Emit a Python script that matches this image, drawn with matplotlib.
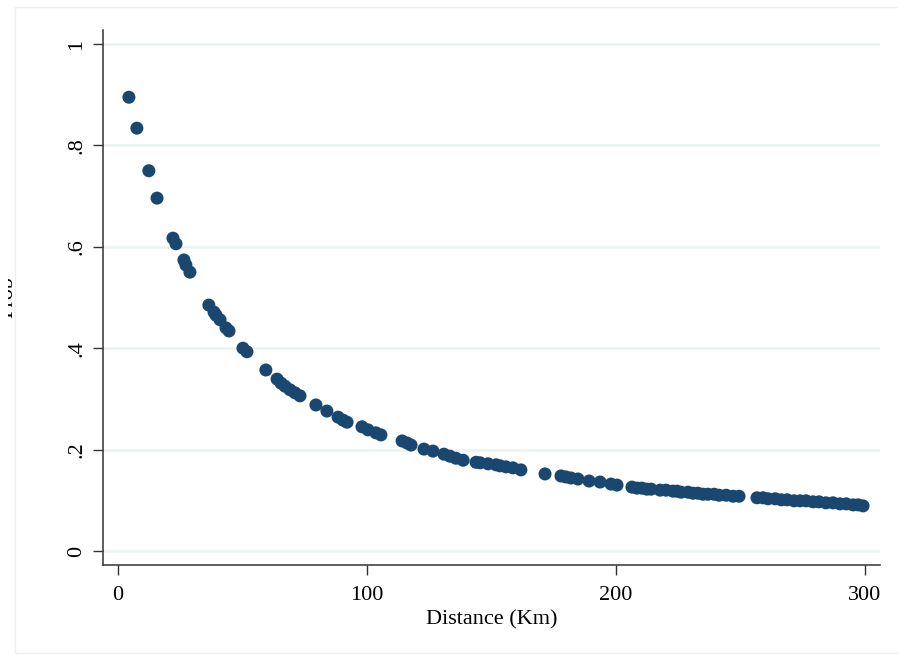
import matplotlib
matplotlib.use("Agg")
import matplotlib.pyplot as plt
from matplotlib.patches import Rectangle

# distance (km) and probability
dist = [4.4, 7.6, 12.4, 15.7, 22.1, 23.3, 26.5, 27.3, 28.9, 36.5, 38.6, 39.4, 41.0,
        43.4, 44.6, 50.2, 51.8, 59.4, 63.9, 65.5, 67.1, 69.1, 71.1, 73.1, 79.5,
        83.9, 88.4, 90.4, 92.0, 98.0, 100.4, 103.6, 105.6, 114.1, 116.1, 117.7,
        122.9, 126.5, 130.9, 133.3, 135.7, 138.6, 143.8, 145.4, 148.6, 151.8,
        153.4, 155.8, 158.6, 161.8, 171.5, 177.9, 179.9, 181.9, 184.7, 189.2,
        193.6, 198.0, 200.4, 206.4, 208.4, 210.4, 212.4, 214.1, 217.7, 220.1,
        222.9, 224.5, 226.1, 228.9, 230.9, 232.9, 234.9, 236.9, 239.4, 241.4,
        244.2, 247.0, 249.4, 256.6, 259.0, 261.0, 263.9, 266.3, 268.7, 271.5,
        273.9, 276.3, 279.1, 281.5, 284.3, 287.1, 289.9, 292.4, 295.2, 297.2,
        299.2]
prob = [0.895, 0.834, 0.750, 0.696, 0.617, 0.606, 0.574, 0.564, 0.550, 0.485,
        0.471, 0.465, 0.456, 0.440, 0.434, 0.400, 0.393, 0.357, 0.339, 0.331,
        0.325, 0.318, 0.312, 0.306, 0.288, 0.276, 0.264, 0.258, 0.254, 0.245,
        0.239, 0.233, 0.229, 0.217, 0.213, 0.209, 0.201, 0.197, 0.191, 0.187,
        0.183, 0.179, 0.175, 0.174, 0.172, 0.170, 0.168, 0.166, 0.164, 0.160,
        0.152, 0.148, 0.146, 0.144, 0.142, 0.138, 0.136, 0.132, 0.130, 0.126,
        0.124, 0.124, 0.122, 0.122, 0.120, 0.120, 0.118, 0.118, 0.116, 0.116,
        0.114, 0.114, 0.112, 0.112, 0.112, 0.110, 0.110, 0.108, 0.108, 0.105,
        0.105, 0.103, 0.103, 0.101, 0.101, 0.099, 0.099, 0.099, 0.097, 0.097,
        0.095, 0.095, 0.093, 0.093, 0.091, 0.091, 0.089]
yticks = [0, 0.2, 0.4, 0.6, 0.8, 1.0]
ylabels = ["0", ".2", ".4", ".6", ".8", "1"]
xticks = [0, 100, 200, 300]

plt.rcParams["font.family"] = ["Liberation Serif", "DejaVu Serif"]
fig = plt.figure(figsize=(8.98, 6.55), dpi=100)
ax = fig.add_axes([103 / 898, 1 - 565 / 655, 777 / 898, 535 / 655])

ax.scatter(dist, prob, s=88, color="#1a476f", edgecolors="none", zorder=3)

ax.set_xlim(-6.0, 306.0)
ax.set_ylim(-0.0276, 1.0276)
ax.set_yticks(yticks)
ax.set_yticklabels(ylabels, rotation=90, va="center")
ax.set_xticks(xticks)
for y in yticks:
    ax.axhline(y, color="#eaf2f3", lw=1.8, zorder=1)
ax.tick_params(axis="both", direction="out", length=7, width=1, color="#333333",
               labelsize=16, pad=5)
ax.tick_params(axis="x", pad=8)
ax.spines["top"].set_visible(False)
ax.spines["right"].set_visible(False)
for s in ("left", "bottom"):
    ax.spines[s].set_color("#333333")
    ax.spines[s].set_linewidth(1.1)
ax.set_xlabel("Distance (Km)", fontsize=16, labelpad=4)

# y label partly cut off at the left edge, as in the reference
fig.text(17 / 898, 1 - 297 / 655, "Prob", rotation=90, fontsize=16,
         ha="right", va="center")
fig.patches.append(Rectangle((0, 0), 8 / 898, 1, transform=fig.transFigure,
                             facecolor="white", edgecolor="none", zorder=5))
# faint outer graph region border
fig.patches.append(Rectangle((15 / 898, 2 / 655), 1.0, 646 / 655,
                             transform=fig.transFigure, facecolor="none",
                             edgecolor="#eeeeee", lw=1, zorder=0))

fig.savefig("out.png", dpi=100)
